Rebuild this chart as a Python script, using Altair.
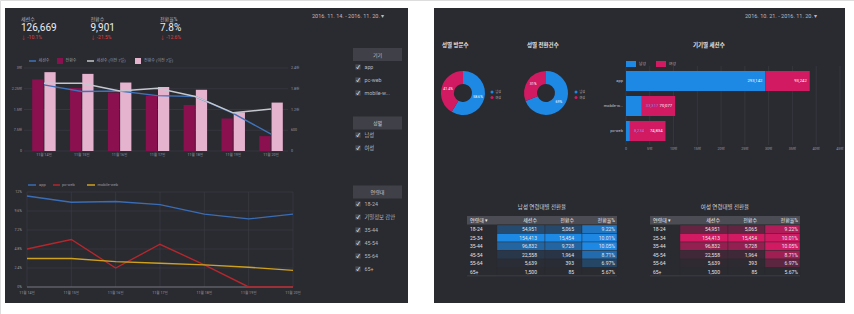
import altair as alt
import pandas as pd

FONT = "Roboto, 'Noto Sans CJK KR', sans-serif"
PANEL = "#2a2a31"
BOX = "#404048"
HEAD = "#4c4c54"
TXT = "#c9c9cc"
DIM = "#9a9aa0"
GRID = "#3e3e46"
MAG = "#8b1050"
PINKB = "#e6b3cf"
BLUE_L = "#3f72b8"
GRAY_L = "#c5c7cf"
APP_C = "#3a6db5"
PC_C = "#b4272c"
MOB_C = "#d0a11e"
MALE_C = "#1e88e5"
FEMALE_C = "#d21a62"

# ---------------- data ----------------
kpi_names = ["세션수", "전환수", "전환율%"]
kpi_values = ["126,669", "9,901", "7.8%"]
kpi_changes = ["-10.1%", "-21.5%", "-12.6%"]
date_left = "2016. 11. 14. - 2016. 11. 20.  ▾"
date_right = "2016. 10. 21. - 2016. 11. 20.  ▾"

days = ["11월 14일", "11월 15일", "11월 16일", "11월 17일", "11월 18일", "11월 19일", "11월 20일"]
line_series = ["세션수", "세션수 (이전 7일)"]
bar_series = ["전환수", "전환수 (이전 7일)"]
sessions = [23900, 21500, 21700, 20000, 19700, 13600, 6100]
sessions_prev = [24500, 24500, 21700, 22700, 19700, 13800, 15200]
conversions = [2070, 1820, 1690, 1600, 1330, 940, 430]
conversions_prev = [2280, 2230, 1980, 1850, 1770, 1120, 1400]
left_ticks = [0, 7500, 15000, 22500, 30000]
left_tick_labels = ["0", "7.5천", "1.5만", "2.25만", "3만"]
right_ticks = [0, 600, 1200, 1800, 2400]
right_tick_labels = ["0", "600", "1.2천", "1.8천", "2.4천"]

rate_series = ["app", "pc-web", "mobile-web"]
rate_app = [11.5, 10.7, 10.8, 10.4, 9.2, 8.6, 9.2]
rate_pc = [4.8, 6.0, 2.4, 5.4, 2.8, 0.0, 0.0]
rate_mobile = [3.6, 3.6, 3.2, 3.0, 2.8, 2.5, 2.1]
rate_ticks = [0, 2.4, 4.8, 7.2, 9.6, 12]
rate_tick_labels = ["0%", "2.4%", "4.8%", "7.2%", "9.6%", "12%"]

filter_titles = ["기기", "성별", "연령대"]
filter_devices = ["app", "pc-web", "mobile-w..."]
filter_genders = ["남성", "여성"]
filter_ages = ["18-24", "기밀정보 감안", "35-44", "45-54", "55-64", "65+"]

genders = ["남성", "여성"]
visit_share = [58.6, 41.4]
conv_share = [69, 31]
panel_titles = ["성별 방문수", "성별 전환건수", "기기별 세션수"]

bar_devices = ["app", "mobile-w...", "pc-web"]
male_sessions = [293142, 33317, 8234]
female_sessions = [93242, 70077, 74834]
bar_ticks = [0, 50000, 100000, 150000, 200000, 250000, 300000, 350000, 400000, 450000]
bar_tick_labels = ["0", "5만", "10만", "15만", "20만", "25만", "30만", "35만", "40만", "45만"]

ages = ["18-24", "25-34", "35-44", "45-54", "55-64", "65+"]
age_sessions = [54951, 154413, 96832, 22558, 5639, 1500]
age_conversions = [5065, 15454, 9728, 1964, 393, 85]
age_rates = [9.22, 10.01, 10.05, 8.71, 6.97, 5.67]
table_titles = ["남성 연령대별 전환율", "여성 연령대별 전환율"]
table_headers = ["연령대 ▾", "세션수", "전환수", "전환율%"]

# ---------------- helpers ----------------
ONE = [{"k": 1}]


def box(x1, x2, y1, y2, color):
    return alt.Chart(alt.Data(values=ONE)).mark_rect(color=color).encode(
        x=alt.value(x1), x2=alt.value(x2), y=alt.value(y1), y2=alt.value(y2))


def seg(x1, x2, y, color, w=1.5):
    return alt.Chart(alt.Data(values=ONE)).mark_rule(color=color, strokeWidth=w).encode(
        x=alt.value(x1), x2=alt.value(x2), y=alt.value(y))


def label(text, x, y, size=5, color=TXT, align="left", weight="normal"):
    return alt.Chart(alt.Data(values=[{"t": text}])).mark_text(
        align=align, baseline="middle", fontSize=size, color=color,
        fontWeight=weight, font=FONT).encode(x=alt.value(x), y=alt.value(y), text="t:N")


def tmark(size, color=TXT, align="left", weight="normal"):
    return dict(align=align, baseline="middle", fontSize=size, color=color,
                fontWeight=weight, font=FONT)


layers = []

# ---------------- panels ----------------
layers.append(box(5, 408, 8, 303, PANEL))
layers.append(box(434, 845, 8, 303, PANEL))

# ---------------- KPI header ----------------
kpi_df = pd.DataFrame({"name": kpi_names, "value": kpi_values,
                       "change": ["↓ " + c for c in kpi_changes]})
kx = alt.X("name:N", scale=alt.Scale(type="point", domain=kpi_names, range=[21, 160], padding=0), axis=None)
kb = alt.Chart(kpi_df)
layers.append(kb.mark_text(**tmark(5, "#b8b8bc")).encode(x=kx, y=alt.value(19), text="name:N"))
layers.append(kb.mark_text(**tmark(10, "#ededf0")).encode(x=kx, y=alt.value(28), text="value:N"))
layers.append(kb.mark_text(**tmark(5, "#e0403c")).encode(x=kx, y=alt.value(37), text="change:N"))
layers.append(label(date_left, 312, 16, 5.5, "#bcbcc0"))

# ---------------- top combo chart ----------------
top_band = alt.Scale(domain=days, range=[25, 290], paddingInner=0.38, paddingOuter=0.19)
top_point = alt.Scale(type="point", domain=days, range=[25, 290], padding=0.5)
left_y = alt.Scale(domain=[0, 30000], range=[151, 68])
right_y = alt.Scale(domain=[0, 2400], range=[151, 68])

lt = alt.Chart(pd.DataFrame({"v": left_ticks, "lab": left_tick_labels}))
layers.append(lt.mark_rule(color=GRID, strokeWidth=0.6).encode(
    y=alt.Y("v:Q", scale=left_y, axis=None), x=alt.value(24), x2=alt.value(288)))
layers.append(lt.mark_text(**tmark(3.6, DIM, "right")).encode(
    y=alt.Y("v:Q", scale=left_y, axis=None), x=alt.value(22), text="lab:N"))
rt = alt.Chart(pd.DataFrame({"v": right_ticks, "lab": right_tick_labels}))
layers.append(rt.mark_text(**tmark(3.6, DIM, "left")).encode(
    y=alt.Y("v:Q", scale=right_y, axis=None), x=alt.value(291), text="lab:N"))

bar_df = pd.DataFrame({"day": days * 2,
                       "series": [bar_series[0]] * 7 + [bar_series[1]] * 7,
                       "value": conversions + conversions_prev})
layers.append(alt.Chart(bar_df).mark_bar().encode(
    x=alt.X("day:N", scale=top_band, axis=None),
    xOffset=alt.XOffset("series:N", scale=alt.Scale(domain=bar_series, paddingInner=0.08)),
    y=alt.Y("value:Q", scale=right_y, axis=None),
    color=alt.Color("series:N", scale=alt.Scale(domain=bar_series, range=[MAG, PINKB]), legend=None)))

line_df = pd.DataFrame({"day": days * 2,
                        "series": [line_series[0]] * 7 + [line_series[1]] * 7,
                        "value": sessions + sessions_prev})
layers.append(alt.Chart(line_df).mark_line(strokeWidth=1.4).encode(
    x=alt.X("day:N", scale=top_point, axis=None),
    y=alt.Y("value:Q", scale=left_y, axis=None),
    color=alt.Color("series:N", scale=alt.Scale(domain=line_series, range=[BLUE_L, GRAY_L]), legend=None)))

days_df = pd.DataFrame({"day": days})
layers.append(alt.Chart(days_df).mark_text(**tmark(3.6, DIM, "center")).encode(
    x=alt.X("day:N", scale=top_point, axis=None), y=alt.value(155), text="day:N"))

# legend of top chart
layers.append(seg(29, 36, 61, BLUE_L))
layers.append(label(line_series[0], 38.5, 61, 4, DIM))
layers.append(box(57, 63, 58, 64, MAG))
layers.append(label(bar_series[0], 65.5, 61, 4, DIM))
layers.append(seg(87, 94, 61, GRAY_L))
layers.append(label(line_series[1], 96.5, 61, 4, DIM))
layers.append(box(135, 141, 58, 64, PINKB))
layers.append(label(bar_series[1], 144, 61, 4, DIM))

# ---------------- bottom rate chart ----------------
bx = alt.Scale(type="point", domain=days, range=[27, 293], padding=0)
by = alt.Scale(domain=[0, 12], range=[287, 192])
gt = alt.Chart(pd.DataFrame({"v": rate_ticks, "lab": rate_tick_labels}))
layers.append(gt.mark_rule(color=GRID, strokeWidth=0.6).encode(
    y=alt.Y("v:Q", scale=by, axis=None), x=alt.value(27), x2=alt.value(293)))
layers.append(alt.Chart(days_df).mark_rule(color=GRID, strokeWidth=0.6).encode(
    x=alt.X("day:N", scale=bx, axis=None), y=alt.value(192), y2=alt.value(287)))
layers.append(seg(27, 293, 287, "#75757c", 1))
layers.append(gt.mark_text(**tmark(3.6, DIM, "right")).encode(
    y=alt.Y("v:Q", scale=by, axis=None), x=alt.value(22), text="lab:N"))
layers.append(alt.Chart(days_df).mark_text(**tmark(3.6, DIM, "center")).encode(
    x=alt.X("day:N", scale=bx, axis=None), y=alt.value(292.5), text="day:N"))

rate_df = pd.DataFrame({"day": days * 3,
                        "series": [rate_series[0]] * 7 + [rate_series[1]] * 7 + [rate_series[2]] * 7,
                        "rate": rate_app + rate_pc + rate_mobile})
layers.append(alt.Chart(rate_df).mark_line(strokeWidth=1.4).encode(
    x=alt.X("day:N", scale=bx, axis=None),
    y=alt.Y("rate:Q", scale=by, axis=None),
    color=alt.Color("series:N", scale=alt.Scale(domain=rate_series, range=[APP_C, PC_C, MOB_C]), legend=None)))

layers.append(seg(28, 36, 185, APP_C))
layers.append(label(rate_series[0], 39, 185, 4, DIM))
layers.append(seg(53, 60, 185, PC_C))
layers.append(label(rate_series[1], 62, 185, 4, DIM))
layers.append(seg(87, 95, 185, MOB_C))
layers.append(label(rate_series[2], 97.5, 185, 4, DIM))

# ---------------- filter controls ----------------
def filter_group(title, items, y_head, y_range):
    out = [box(353, 402, y_head - 6.5, y_head + 6.5, BOX),
           label(title, 377.5, y_head, 5, TXT, "center")]
    df = pd.DataFrame({"item": items})
    ys = alt.Y("item:N", scale=alt.Scale(type="point", domain=items, range=y_range, padding=0), axis=None)
    c = alt.Chart(df)
    out.append(c.mark_square(size=28, color="#4a4a52", opacity=1).encode(y=ys, x=alt.value(358)))
    out.append(c.mark_text(**tmark(5, "#e6e6e8", "center", "bold")).encode(
        y=ys, x=alt.value(358), text=alt.value("✓")))
    out.append(c.mark_text(**tmark(5.3, "#b8b8bc")).encode(y=ys, x=alt.value(364.5), text="item:N"))
    return out


layers += filter_group(filter_titles[0], filter_devices, 54.5, [67, 93])
layers += filter_group(filter_titles[1], filter_genders, 123, [135, 148])
layers += filter_group(filter_titles[2], filter_ages, 192, [204, 269])

# ---------------- right panel ----------------
layers.append(label(date_right, 745, 16, 5.5, "#bcbcc0"))
layers.append(label(panel_titles[0], 442, 45, 5.5, "#e4e4e6", "left", "bold"))
layers.append(label(panel_titles[1], 527, 45, 5.5, "#e4e4e6", "left", "bold"))
layers.append(label(panel_titles[2], 693, 45, 5.5, "#e4e4e6", "left", "bold"))

gscale = alt.Scale(domain=genders, range=[MALE_C, FEMALE_C])


def donut(cx, shares, lx):
    df = pd.DataFrame({"gender": genders, "share": shares, "o": [0, 1],
                       "lab": [f"{s:g}%" for s in shares]})
    b = alt.Chart(df)
    out = [b.mark_arc(innerRadius=9, outerRadius=22).encode(
        theta=alt.Theta("share:Q", stack=True), order=alt.Order("o:Q"),
        color=alt.Color("gender:N", scale=gscale, legend=None),
        x=alt.value(cx), y=alt.value(93)),
        b.mark_text(radius=15.5, **tmark(3.6, "white", "center")).encode(
        theta=alt.Theta("share:Q", stack=True), order=alt.Order("o:Q"),
        x=alt.value(cx), y=alt.value(93), text="lab:N")]
    ly = alt.Y("gender:N", scale=alt.Scale(type="point", domain=genders, range=[92, 97.5], padding=0), axis=None)
    out.append(b.mark_circle(size=9, opacity=1).encode(
        y=ly, x=alt.value(lx), color=alt.Color("gender:N", scale=gscale, legend=None)))
    out.append(b.mark_text(**tmark(3, "#b8b8bc")).encode(y=ly, x=alt.value(lx + 3.5), text="gender:N"))
    return out


layers += donut(463, visit_share, 492)
layers += donut(546, conv_share, 576)

# device stacked bar
bxs = alt.Scale(domain=[0, 450000], range=[626, 840])
bys = alt.Scale(domain=bar_devices, range=[68.5, 143.5], paddingInner=0.2, paddingOuter=0.1)
byp = alt.Scale(type="point", domain=bar_devices, range=[68.5, 143.5], padding=0.5)
tk = alt.Chart(pd.DataFrame({"v": bar_ticks, "lab": bar_tick_labels}))
layers.append(tk.mark_rule(color=GRID, strokeWidth=0.6).encode(
    x=alt.X("v:Q", scale=bxs, axis=None), y=alt.value(66), y2=alt.value(145)))
layers.append(tk.mark_text(**tmark(3.6, DIM, "center")).encode(
    x=alt.X("v:Q", scale=bxs, axis=None), y=alt.value(149), text="lab:N"))

sb_df = pd.DataFrame({"device": bar_devices * 2,
                      "gender": [genders[0]] * 3 + [genders[1]] * 3,
                      "value": male_sessions + female_sessions,
                      "o": [0] * 3 + [1] * 3})
layers.append(alt.Chart(sb_df).mark_bar().encode(
    y=alt.Y("device:N", scale=bys, axis=None),
    x=alt.X("value:Q", stack="zero", scale=bxs, axis=None),
    order=alt.Order("o:Q"),
    color=alt.Color("gender:N", scale=gscale, legend=None)))

lab_df = pd.DataFrame({"device": bar_devices,
                       "male": male_sessions,
                       "total": [m + f for m, f in zip(male_sessions, female_sessions)],
                       "male_txt": [f"{m:,}" for m in male_sessions],
                       "female_txt": [f"{f:,}" for f in female_sessions]})
lb = alt.Chart(lab_df)
layers.append(lb.mark_text(**tmark(4, TXT, "right")).encode(
    y=alt.Y("device:N", scale=byp, axis=None), x=alt.value(623), text="device:N"))
layers.append(lb.transform_filter("datum.male > 100000").mark_text(dx=-3, **tmark(4.2, "white", "right")).encode(
    y=alt.Y("device:N", scale=byp, axis=None), x=alt.X("male:Q", scale=bxs, axis=None), text="male_txt:N"))
layers.append(lb.transform_filter("datum.male <= 100000").mark_text(dx=4, **tmark(4.2, "#7f8ce0", "left")).encode(
    y=alt.Y("device:N", scale=byp, axis=None), x=alt.X("male:Q", scale=bxs, axis=None), text="male_txt:N"))
layers.append(lb.mark_text(dx=-3, **tmark(4.2, "white", "right")).encode(
    y=alt.Y("device:N", scale=byp, axis=None), x=alt.X("total:Q", scale=bxs, axis=None), text="female_txt:N"))

layers.append(box(626, 636, 61, 67, MALE_C))
layers.append(label(genders[0], 639, 64, 3.8, "#b8b8bc"))
layers.append(box(656, 666, 61, 67, FEMALE_C))
layers.append(label(genders[1], 669, 64, 3.8, "#b8b8bc"))

# tables
age_df = pd.DataFrame({"age": ages, "sessions": age_sessions, "conversions": age_conversions,
                       "rate": age_rates,
                       "s_txt": [f"{v:,}" for v in age_sessions],
                       "c_txt": [f"{v:,}" for v in age_conversions],
                       "r_txt": [f"{v:.2f}%" for v in age_rates]})


def table(x0, title, heat):
    out = [label(title, x0 + 75, 207, 5.5, "#d8d8dc", "center"),
           box(x0, x0 + 150, 216, 224.5, HEAD),
           label(table_headers[0], x0 + 3, 220.3, 5, "#ececee"),
           label(table_headers[1], x0 + 70, 220.3, 5, "#ececee", "right"),
           label(table_headers[2], x0 + 107, 220.3, 5, "#ececee", "right"),
           label(table_headers[3], x0 + 148, 220.3, 5, "#ececee", "right")]
    band = alt.Scale(domain=ages, range=[225, 276], paddingInner=0, paddingOuter=0)
    pt = alt.Scale(type="point", domain=ages, range=[225, 276], padding=0.5)
    b = alt.Chart(age_df)
    for field, vals, a, z in [("sessions", age_sessions, 30, 78),
                              ("conversions", age_conversions, 78, 115),
                              ("rate", age_rates, 115, 150)]:
        out.append(b.mark_rect(stroke=PANEL, strokeWidth=0.4).encode(
            y=alt.Y("age:N", scale=band, axis=None), x=alt.value(x0 + a), x2=alt.value(x0 + z),
            color=alt.Color(f"{field}:Q", scale=alt.Scale(domain=[float(min(vals)), float(max(vals))],
                                                           range=[PANEL, heat], interpolate="rgb"),
                            legend=None)))
    out.append(box(x0, x0 + 150, 275.6, 276.2, "#45454d"))
    for field, xx, al in [("age", 3, "left"), ("s_txt", 70, "right"),
                          ("c_txt", 107, "right"), ("r_txt", 148, "right")]:
        out.append(b.mark_text(**tmark(5, "#e4e4e6", al)).encode(
            y=alt.Y("age:N", scale=pt, axis=None), x=alt.value(x0 + xx), text=f"{field}:N"))
    return out


layers += table(467, table_titles[0], MALE_C)
layers += table(650, table_titles[1], FEMALE_C)

chart = alt.layer(*layers).resolve_scale(
    x="independent", y="independent", color="independent", theta="independent"
).properties(
    width=854, height=314, background="white", padding=0,
    autosize=alt.AutoSizeParams(type="none")
).configure_view(stroke=None).configure(font=FONT)

chart.save("out.html", embed_options={"renderer": "svg", "actions": False})
